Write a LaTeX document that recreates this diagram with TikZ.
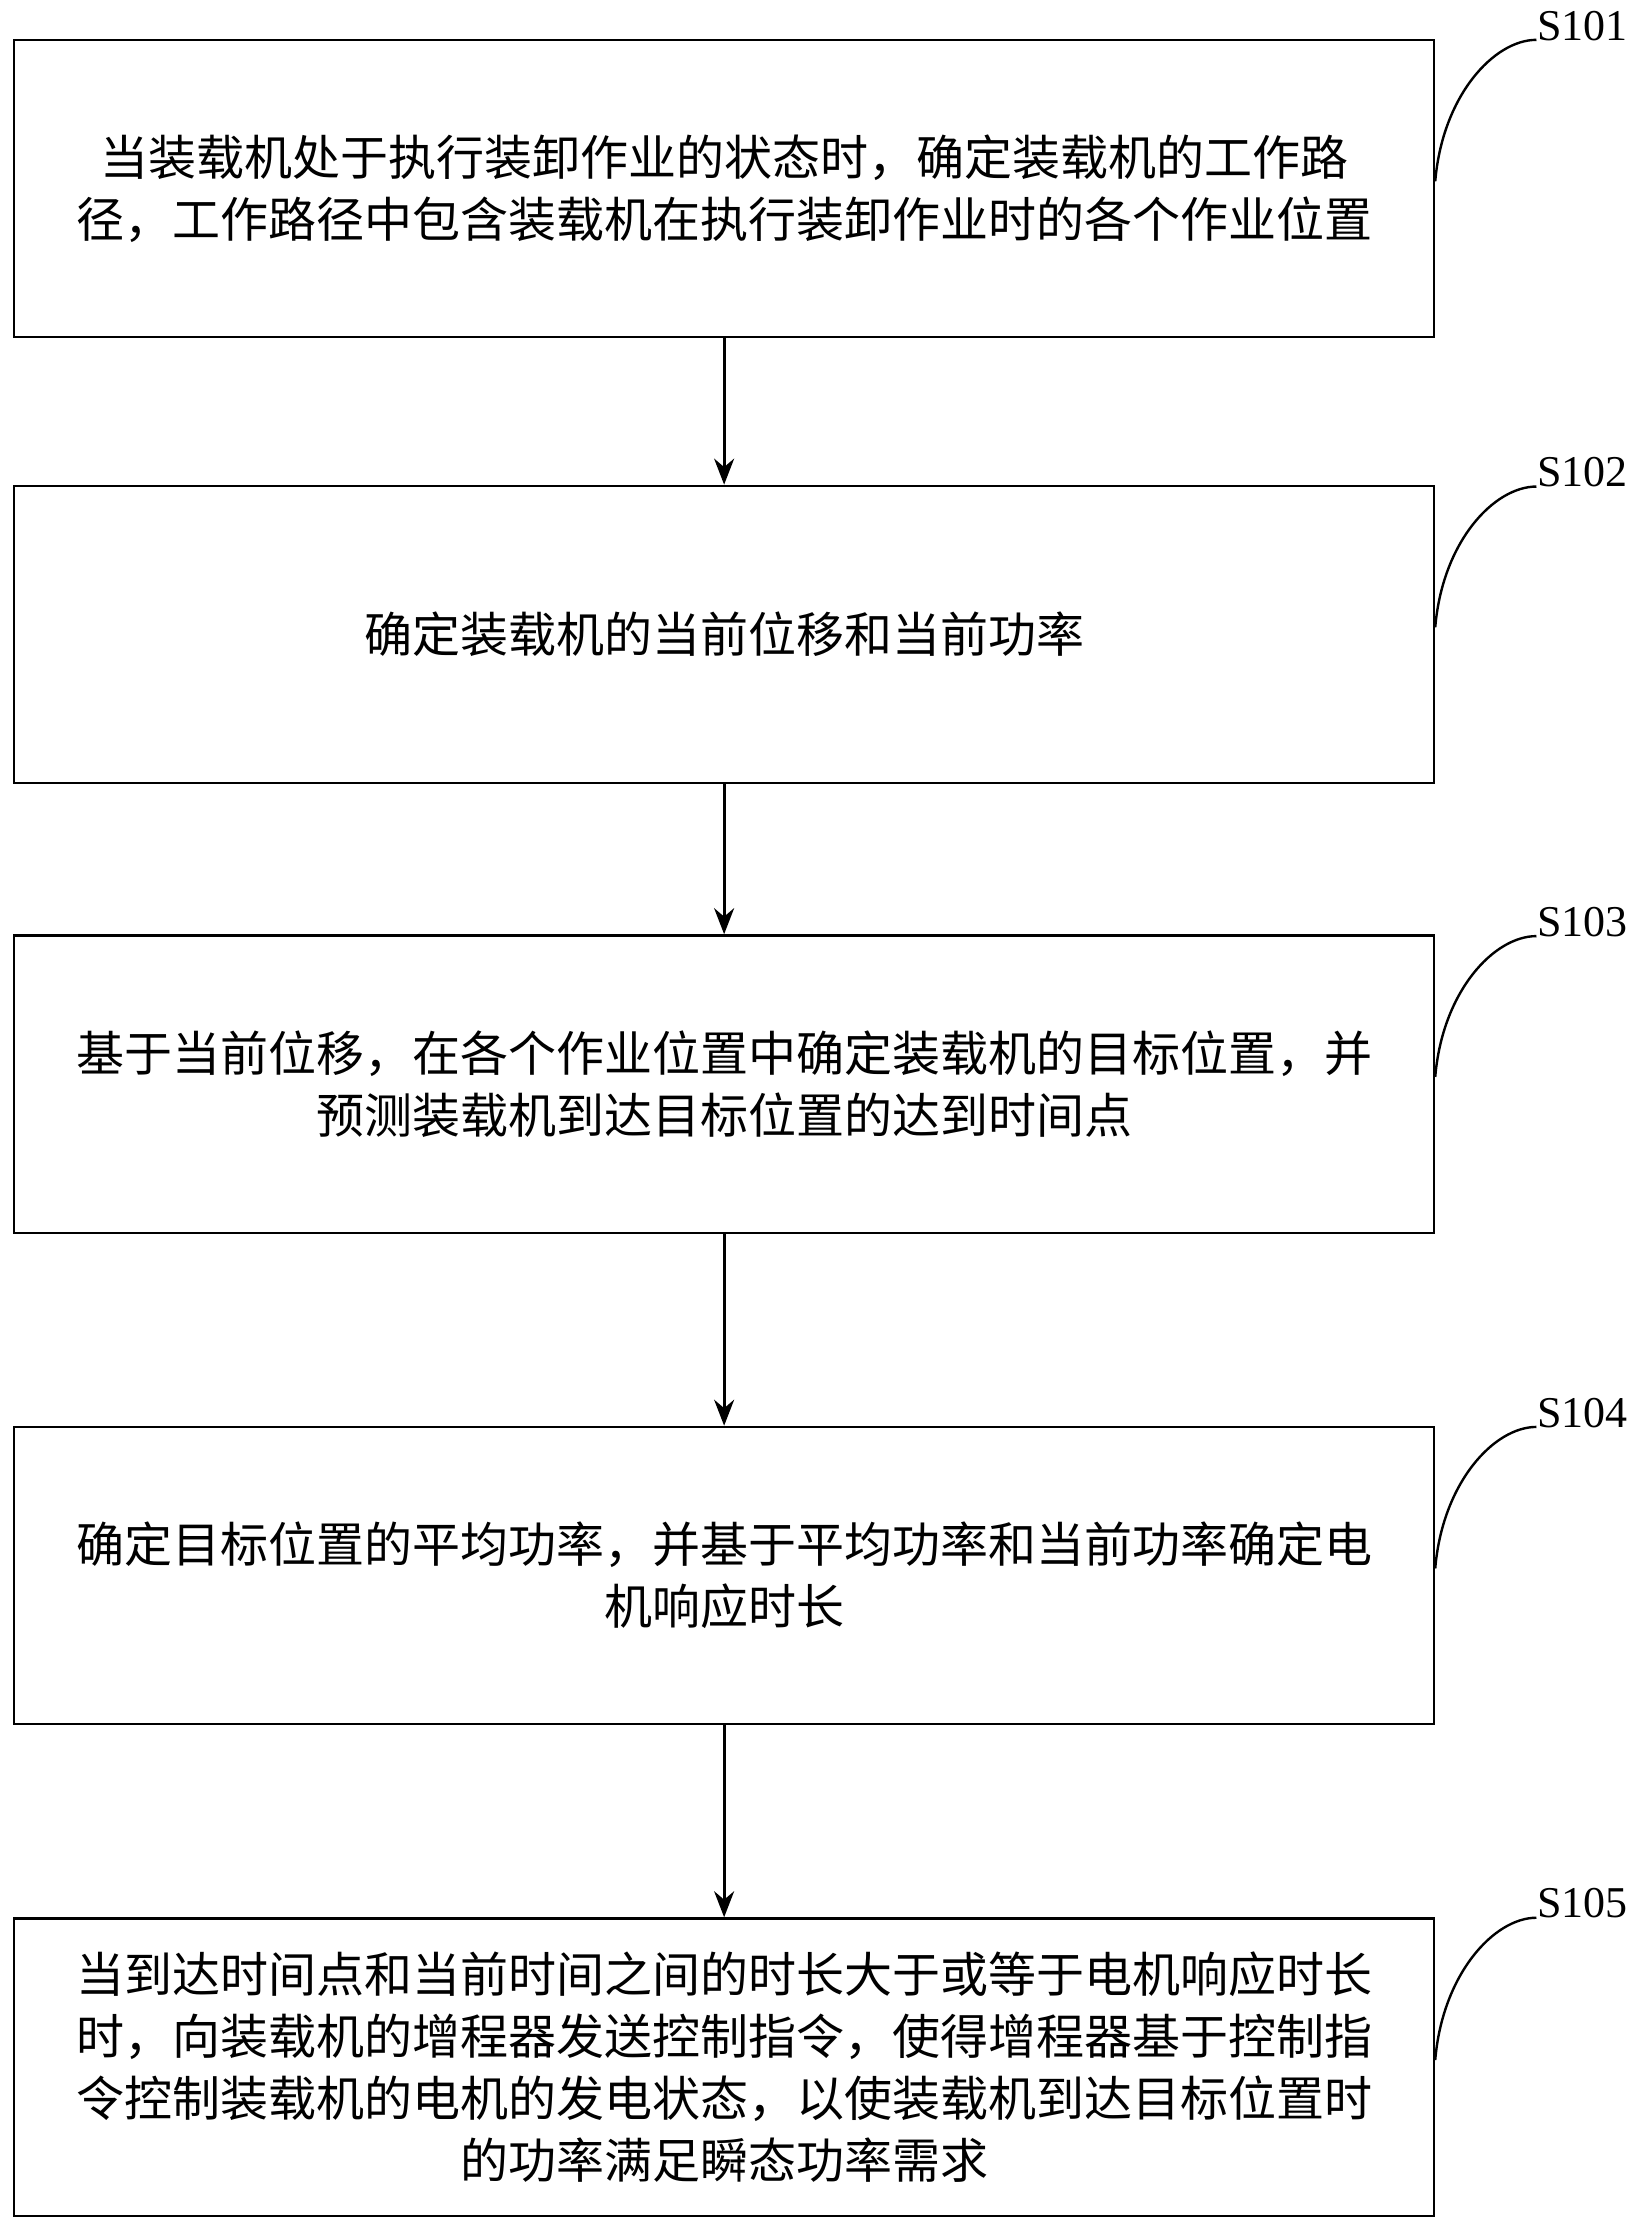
\documentclass[tikz,border=0pt]{standalone}
\usepackage{fontspec}
\setmainfont{Liberation Serif}
\newfontfamily\cjk{Noto Sans CJK SC}
\usetikzlibrary{arrows.meta}
\begin{document}
\begin{tikzpicture}[x=0.05cm,y=-0.05cm,
  stepbox/.style={draw,line width=2.4pt,minimum width=998*0.05cm,minimum height=209*0.05cm,align=center,font=\cjk\fontsize{48}{62}\selectfont,inner sep=0pt},
  conn/.style={line width=2.8pt,-{Stealth[length=26pt,width=20pt]}},
  lab/.style={font=\fontsize{44}{44}\selectfont,anchor=west},
  curl/.style={line width=2.4pt}]
\useasboundingbox (0,0) rectangle (1160,1564);
\node[stepbox] (b1) at (509,132.5) {当装载机处于执行装卸作业的状态时，确定装载机的工作路\\径，工作路径中包含装载机在执行装卸作业时的各个作业位置};
\node[stepbox] (b2) at (509,446) {确定装载机的当前位移和当前功率};
\node[stepbox] (b3) at (509,762) {基于当前位移，在各个作业位置中确定装载机的目标位置，并\\预测装载机到达目标位置的达到时间点};
\node[stepbox] (b4) at (509,1107.5) {确定目标位置的平均功率，并基于平均功率和当前功率确定电\\机响应时长};
\node[stepbox] (b5) at (509,1453) {当到达时间点和当前时间之间的时长大于或等于电机响应时长\\时，向装载机的增程器发送控制指令，使得增程器基于控制指\\令控制装载机的电机的发电状态，以使装载机到达目标位置时\\的功率满足瞬态功率需求};
\foreach \i/\y in {1/28,2/342,3/658,4/1003,5/1348}{
  \node[lab] (s\i) at (1078,\y-10) {S10\i};
  \coordinate (c\i) at (1080,\y);
  \draw[curl] (b\i.east) ++(0,-5) .. controls +(5,-60) and +(-30,0) .. (c\i);
}
\draw[conn] (b1) -- (b2);
\draw[conn] (b2) -- (b3);
\draw[conn] (b3) -- (b4);
\draw[conn] (b4) -- (b5);
\end{tikzpicture}
\end{document}
